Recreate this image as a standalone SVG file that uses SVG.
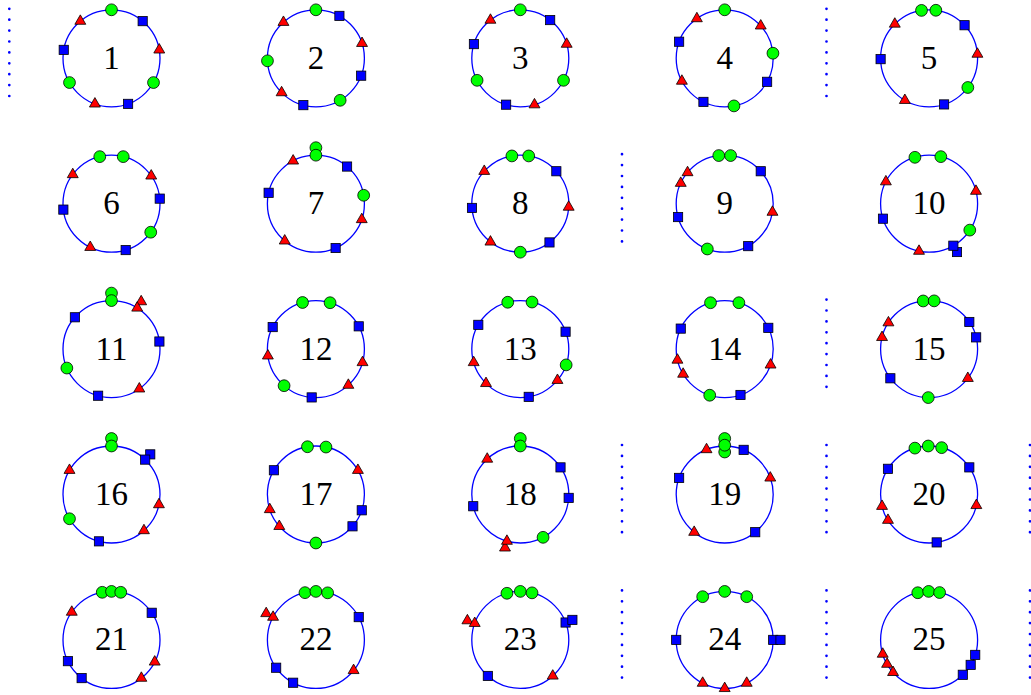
<svg xmlns="http://www.w3.org/2000/svg" xmlns:xlink="http://www.w3.org/1999/xlink" width="1031" height="695" viewBox="0 0 1031 695">
<style>
.ring{fill:none;stroke:#0000ff;stroke-width:1.3}
.lbl{font-family:"Liberation Serif","DejaVu Serif",serif;font-size:33px;text-anchor:middle;fill:#000}
.gc{fill:#00ff00;stroke:#000;stroke-width:0.8}
.sq{fill:#0000ff;stroke:#000;stroke-width:0.8}
.tr{fill:#ff0000;stroke:#000;stroke-width:0.8;stroke-linejoin:miter}
.dots{stroke:#0000ff;stroke-width:2.7;stroke-linecap:round;stroke-dasharray:0 10.9;fill:none}
</style>
<defs>
<circle id="g" r="5.9" class="gc"/>
<rect id="s" x="-4.6" y="-4.6" width="9.2" height="9.2" class="sq"/>
<polygon id="t" points="0,-6.3 5.46,3.15 -5.46,3.15" class="tr"/>
</defs>
<rect width="1031" height="695" fill="#ffffff"/>
<g id="connectors">
<line class="dots" x1="9.3" y1="8.8" x2="9.3" y2="96.5"/>
<line class="dots" x1="826.5" y1="8.8" x2="826.5" y2="96.5"/>
<line class="dots" x1="622" y1="154.2" x2="622" y2="242"/>
<line class="dots" x1="826.5" y1="299.6" x2="826.5" y2="387.4"/>
<line class="dots" x1="622" y1="445" x2="622" y2="532.8"/>
<line class="dots" x1="826.5" y1="445" x2="826.5" y2="532.8"/>
<line class="dots" x1="1030" y1="445" x2="1030" y2="532.8"/>
<line class="dots" x1="622" y1="590.4" x2="622" y2="678.2"/>
<line class="dots" x1="826.5" y1="590.4" x2="826.5" y2="678.2"/>
<line class="dots" x1="1030" y1="590.4" x2="1030" y2="678.2"/>
</g>

<g id="n1" transform="translate(111.5,58.3)">
<circle class="ring" r="48.5"/><text class="lbl" y="10.5">1</text>
<use href="#g" transform="rotate(0) translate(0,-48.5) rotate(0)"/>
<use href="#s" transform="rotate(40) translate(0,-48.5) rotate(-40)"/>
<use href="#t" transform="rotate(80) translate(0,-48.5) rotate(-80)"/>
<use href="#g" transform="rotate(120) translate(0,-48.5) rotate(-120)"/>
<use href="#s" transform="rotate(160) translate(0,-48.5) rotate(-160)"/>
<use href="#t" transform="rotate(200) translate(0,-48.5) rotate(-200)"/>
<use href="#g" transform="rotate(240) translate(0,-48.5) rotate(-240)"/>
<use href="#s" transform="rotate(280) translate(0,-48.5) rotate(-280)"/>
<use href="#t" transform="rotate(320) translate(0,-48.5) rotate(-320)"/>
</g>

<g id="n2" transform="translate(315.9,58.3)">
<circle class="ring" r="48.5"/><text class="lbl" y="10.5">2</text>
<use href="#g" transform="rotate(0) translate(0,-48.5) rotate(0)"/>
<use href="#s" transform="rotate(29) translate(0,-48.5) rotate(-29)"/>
<use href="#t" transform="rotate(72) translate(0,-48.5) rotate(-72)"/>
<use href="#s" transform="rotate(111) translate(0,-48.5) rotate(-111)"/>
<use href="#g" transform="rotate(150) translate(0,-48.5) rotate(-150)"/>
<use href="#s" transform="rotate(195) translate(0,-48.5) rotate(-195)"/>
<use href="#t" transform="rotate(225) translate(0,-48.5) rotate(-225)"/>
<use href="#g" transform="rotate(267) translate(0,-48.5) rotate(-267)"/>
<use href="#t" transform="rotate(318) translate(0,-48.5) rotate(-318)"/>
</g>

<g id="n3" transform="translate(520.3,58.3)">
<circle class="ring" r="48.5"/><text class="lbl" y="10.5">3</text>
<use href="#g" transform="rotate(0) translate(0,-48.5) rotate(0)"/>
<use href="#s" transform="rotate(38) translate(0,-48.5) rotate(-38)"/>
<use href="#t" transform="rotate(73) translate(0,-48.5) rotate(-73)"/>
<use href="#g" transform="rotate(117) translate(0,-48.5) rotate(-117)"/>
<use href="#t" transform="rotate(163) translate(0,-48.5) rotate(-163)"/>
<use href="#s" transform="rotate(197) translate(0,-48.5) rotate(-197)"/>
<use href="#g" transform="rotate(243) translate(0,-48.5) rotate(-243)"/>
<use href="#s" transform="rotate(287) translate(0,-48.5) rotate(-287)"/>
<use href="#t" transform="rotate(322) translate(0,-48.5) rotate(-322)"/>
</g>

<g id="n4" transform="translate(724.7,58.3)">
<circle class="ring" r="48.5"/><text class="lbl" y="10.5">4</text>
<use href="#g" transform="rotate(0) translate(0,-48.5) rotate(0)"/>
<use href="#t" transform="rotate(48) translate(0,-48.5) rotate(-48)"/>
<use href="#g" transform="rotate(84) translate(0,-48.5) rotate(-84)"/>
<use href="#s" transform="rotate(119) translate(0,-48.5) rotate(-119)"/>
<use href="#g" transform="rotate(169) translate(0,-48.5) rotate(-169)"/>
<use href="#s" transform="rotate(206) translate(0,-48.5) rotate(-206)"/>
<use href="#t" transform="rotate(242) translate(0,-48.5) rotate(-242)"/>
<use href="#s" transform="rotate(290) translate(0,-48.5) rotate(-290)"/>
<use href="#t" transform="rotate(325) translate(0,-48.5) rotate(-325)"/>
</g>

<g id="n5" transform="translate(929.1,58.3)">
<circle class="ring" r="48.5"/><text class="lbl" y="10.5">5</text>
<use href="#g" transform="rotate(351) translate(0,-48.5) rotate(-351)"/>
<use href="#g" transform="rotate(8) translate(0,-48.5) rotate(-8)"/>
<use href="#s" transform="rotate(47) translate(0,-48.5) rotate(-47)"/>
<use href="#t" transform="rotate(85) translate(0,-48.5) rotate(-85)"/>
<use href="#g" transform="rotate(127) translate(0,-48.5) rotate(-127)"/>
<use href="#s" transform="rotate(162) translate(0,-48.5) rotate(-162)"/>
<use href="#t" transform="rotate(210) translate(0,-48.5) rotate(-210)"/>
<use href="#s" transform="rotate(269) translate(0,-48.5) rotate(-269)"/>
<use href="#t" transform="rotate(315) translate(0,-48.5) rotate(-315)"/>
</g>

<g id="n6" transform="translate(111.5,203.7)">
<circle class="ring" r="48.5"/><text class="lbl" y="10.5">6</text>
<use href="#g" transform="rotate(346) translate(0,-48.5) rotate(-346)"/>
<use href="#g" transform="rotate(14) translate(0,-48.5) rotate(-14)"/>
<use href="#t" transform="rotate(55) translate(0,-48.5) rotate(-55)"/>
<use href="#s" transform="rotate(84) translate(0,-48.5) rotate(-84)"/>
<use href="#g" transform="rotate(126) translate(0,-48.5) rotate(-126)"/>
<use href="#s" transform="rotate(163) translate(0,-48.5) rotate(-163)"/>
<use href="#t" transform="rotate(206) translate(0,-48.5) rotate(-206)"/>
<use href="#s" transform="rotate(263) translate(0,-48.5) rotate(-263)"/>
<use href="#t" transform="rotate(307) translate(0,-48.5) rotate(-307)"/>
</g>

<g id="n7" transform="translate(315.9,203.7)">
<circle class="ring" r="48.5"/><text class="lbl" y="10.5">7</text>
<use href="#g" transform="rotate(0) translate(0,-56) rotate(0)"/>
<use href="#g" transform="rotate(0) translate(0,-48.5) rotate(0)"/>
<use href="#s" transform="rotate(40) translate(0,-48.5) rotate(-40)"/>
<use href="#g" transform="rotate(80) translate(0,-48.5) rotate(-80)"/>
<use href="#t" transform="rotate(109) translate(0,-48.5) rotate(-109)"/>
<use href="#s" transform="rotate(156) translate(0,-48.5) rotate(-156)"/>
<use href="#t" transform="rotate(220) translate(0,-48.5) rotate(-220)"/>
<use href="#s" transform="rotate(283) translate(0,-48.5) rotate(-283)"/>
<use href="#t" transform="rotate(332) translate(0,-48.5) rotate(-332)"/>
</g>

<g id="n8" transform="translate(520.3,203.7)">
<circle class="ring" r="48.5"/><text class="lbl" y="10.5">8</text>
<use href="#g" transform="rotate(350) translate(0,-48.5) rotate(-350)"/>
<use href="#g" transform="rotate(10) translate(0,-48.5) rotate(-10)"/>
<use href="#s" transform="rotate(48) translate(0,-48.5) rotate(-48)"/>
<use href="#t" transform="rotate(94) translate(0,-48.5) rotate(-94)"/>
<use href="#s" transform="rotate(143) translate(0,-48.5) rotate(-143)"/>
<use href="#g" transform="rotate(180) translate(0,-48.5) rotate(-180)"/>
<use href="#t" transform="rotate(218) translate(0,-48.5) rotate(-218)"/>
<use href="#s" transform="rotate(265) translate(0,-48.5) rotate(-265)"/>
<use href="#t" transform="rotate(312) translate(0,-48.5) rotate(-312)"/>
</g>

<g id="n9" transform="translate(724.7,203.7)">
<circle class="ring" r="48.5"/><text class="lbl" y="10.5">9</text>
<use href="#g" transform="rotate(353) translate(0,-48.5) rotate(-353)"/>
<use href="#g" transform="rotate(7) translate(0,-48.5) rotate(-7)"/>
<use href="#s" transform="rotate(48) translate(0,-48.5) rotate(-48)"/>
<use href="#t" transform="rotate(100) translate(0,-48.5) rotate(-100)"/>
<use href="#s" transform="rotate(151) translate(0,-48.5) rotate(-151)"/>
<use href="#g" transform="rotate(201) translate(0,-48.5) rotate(-201)"/>
<use href="#s" transform="rotate(254) translate(0,-48.5) rotate(-254)"/>
<use href="#t" transform="rotate(295) translate(0,-48.5) rotate(-295)"/>
<use href="#t" transform="rotate(310) translate(0,-48.5) rotate(-310)"/>
</g>

<g id="n10" transform="translate(929.1,203.7)">
<circle class="ring" r="48.5"/><text class="lbl" y="10.5">10</text>
<use href="#g" transform="rotate(343) translate(0,-48.5) rotate(-343)"/>
<use href="#g" transform="rotate(14) translate(0,-48.5) rotate(-14)"/>
<use href="#t" transform="rotate(75) translate(0,-48.5) rotate(-75)"/>
<use href="#g" transform="rotate(123) translate(0,-48.5) rotate(-123)"/>
<use href="#s" transform="rotate(150) translate(0,-55.8) rotate(-150)"/>
<use href="#s" transform="rotate(150) translate(0,-48.5) rotate(-150)"/>
<use href="#t" transform="rotate(192) translate(0,-48.5) rotate(-192)"/>
<use href="#s" transform="rotate(252) translate(0,-48.5) rotate(-252)"/>
<use href="#t" transform="rotate(297) translate(0,-48.5) rotate(-297)"/>
</g>

<g id="n11" transform="translate(111.5,349.1)">
<circle class="ring" r="48.5"/><text class="lbl" y="10.5">11</text>
<use href="#g" transform="rotate(0) translate(0,-56) rotate(0)"/>
<use href="#g" transform="rotate(0) translate(0,-48.5) rotate(0)"/>
<use href="#t" transform="rotate(32) translate(0,-56) rotate(-32)"/>
<use href="#t" transform="rotate(32) translate(0,-48.5) rotate(-32)"/>
<use href="#s" transform="rotate(81) translate(0,-48.5) rotate(-81)"/>
<use href="#t" transform="rotate(145) translate(0,-48.5) rotate(-145)"/>
<use href="#s" transform="rotate(196) translate(0,-48.5) rotate(-196)"/>
<use href="#g" transform="rotate(247) translate(0,-48.5) rotate(-247)"/>
<use href="#s" transform="rotate(311) translate(0,-48.5) rotate(-311)"/>
</g>

<g id="n12" transform="translate(315.9,349.1)">
<circle class="ring" r="48.5"/><text class="lbl" y="10.5">12</text>
<use href="#g" transform="rotate(344) translate(0,-48.5) rotate(-344)"/>
<use href="#g" transform="rotate(17) translate(0,-48.5) rotate(-17)"/>
<use href="#s" transform="rotate(62) translate(0,-48.5) rotate(-62)"/>
<use href="#t" transform="rotate(106) translate(0,-48.5) rotate(-106)"/>
<use href="#t" transform="rotate(138) translate(0,-48.5) rotate(-138)"/>
<use href="#s" transform="rotate(185) translate(0,-48.5) rotate(-185)"/>
<use href="#g" transform="rotate(221) translate(0,-48.5) rotate(-221)"/>
<use href="#t" transform="rotate(262) translate(0,-48.5) rotate(-262)"/>
<use href="#s" transform="rotate(297) translate(0,-48.5) rotate(-297)"/>
</g>

<g id="n13" transform="translate(520.3,349.1)">
<circle class="ring" r="48.5"/><text class="lbl" y="10.5">13</text>
<use href="#g" transform="rotate(345) translate(0,-48.5) rotate(-345)"/>
<use href="#g" transform="rotate(14) translate(0,-48.5) rotate(-14)"/>
<use href="#s" transform="rotate(69) translate(0,-48.5) rotate(-69)"/>
<use href="#g" transform="rotate(109) translate(0,-48.5) rotate(-109)"/>
<use href="#t" transform="rotate(130) translate(0,-48.5) rotate(-130)"/>
<use href="#s" transform="rotate(170) translate(0,-48.5) rotate(-170)"/>
<use href="#t" transform="rotate(225) translate(0,-48.5) rotate(-225)"/>
<use href="#t" transform="rotate(254) translate(0,-48.5) rotate(-254)"/>
<use href="#s" transform="rotate(300) translate(0,-48.5) rotate(-300)"/>
</g>

<g id="n14" transform="translate(724.7,349.1)">
<circle class="ring" r="48.5"/><text class="lbl" y="10.5">14</text>
<use href="#g" transform="rotate(343) translate(0,-48.5) rotate(-343)"/>
<use href="#g" transform="rotate(17) translate(0,-48.5) rotate(-17)"/>
<use href="#s" transform="rotate(64) translate(0,-48.5) rotate(-64)"/>
<use href="#t" transform="rotate(109) translate(0,-48.5) rotate(-109)"/>
<use href="#s" transform="rotate(161) translate(0,-48.5) rotate(-161)"/>
<use href="#g" transform="rotate(198) translate(0,-48.5) rotate(-198)"/>
<use href="#t" transform="rotate(239) translate(0,-48.5) rotate(-239)"/>
<use href="#t" transform="rotate(257) translate(0,-48.5) rotate(-257)"/>
<use href="#s" transform="rotate(295) translate(0,-48.5) rotate(-295)"/>
</g>

<g id="n15" transform="translate(929.1,349.1)">
<circle class="ring" r="48.5"/><text class="lbl" y="10.5">15</text>
<use href="#g" transform="rotate(353) translate(0,-48.5) rotate(-353)"/>
<use href="#g" transform="rotate(6) translate(0,-48.5) rotate(-6)"/>
<use href="#s" transform="rotate(56) translate(0,-48.5) rotate(-56)"/>
<use href="#s" transform="rotate(76) translate(0,-48.5) rotate(-76)"/>
<use href="#t" transform="rotate(127) translate(0,-48.5) rotate(-127)"/>
<use href="#g" transform="rotate(181) translate(0,-48.5) rotate(-181)"/>
<use href="#s" transform="rotate(233) translate(0,-48.5) rotate(-233)"/>
<use href="#t" transform="rotate(284) translate(0,-48.5) rotate(-284)"/>
<use href="#t" transform="rotate(303) translate(0,-48.5) rotate(-303)"/>
</g>

<g id="n16" transform="translate(111.5,494.5)">
<circle class="ring" r="48.5"/><text class="lbl" y="10.5">16</text>
<use href="#g" transform="rotate(0) translate(0,-56) rotate(0)"/>
<use href="#g" transform="rotate(0) translate(0,-48.5) rotate(0)"/>
<use href="#s" transform="rotate(44) translate(0,-55.8) rotate(-44)"/>
<use href="#s" transform="rotate(44) translate(0,-48.5) rotate(-44)"/>
<use href="#t" transform="rotate(102) translate(0,-48.5) rotate(-102)"/>
<use href="#t" transform="rotate(138) translate(0,-48.5) rotate(-138)"/>
<use href="#s" transform="rotate(195) translate(0,-48.5) rotate(-195)"/>
<use href="#g" transform="rotate(240) translate(0,-48.5) rotate(-240)"/>
<use href="#t" transform="rotate(300) translate(0,-48.5) rotate(-300)"/>
</g>

<g id="n17" transform="translate(315.9,494.5)">
<circle class="ring" r="48.5"/><text class="lbl" y="10.5">17</text>
<use href="#g" transform="rotate(350) translate(0,-48.5) rotate(-350)"/>
<use href="#g" transform="rotate(12) translate(0,-48.5) rotate(-12)"/>
<use href="#t" transform="rotate(60) translate(0,-48.5) rotate(-60)"/>
<use href="#s" transform="rotate(109) translate(0,-48.5) rotate(-109)"/>
<use href="#s" transform="rotate(131) translate(0,-48.5) rotate(-131)"/>
<use href="#g" transform="rotate(180) translate(0,-48.5) rotate(-180)"/>
<use href="#t" transform="rotate(229) translate(0,-48.5) rotate(-229)"/>
<use href="#t" transform="rotate(252) translate(0,-48.5) rotate(-252)"/>
<use href="#s" transform="rotate(300) translate(0,-48.5) rotate(-300)"/>
</g>

<g id="n18" transform="translate(520.3,494.5)">
<circle class="ring" r="48.5"/><text class="lbl" y="10.5">18</text>
<use href="#g" transform="rotate(0) translate(0,-56) rotate(0)"/>
<use href="#g" transform="rotate(0) translate(0,-48.5) rotate(0)"/>
<use href="#s" transform="rotate(56) translate(0,-48.5) rotate(-56)"/>
<use href="#s" transform="rotate(94) translate(0,-48.5) rotate(-94)"/>
<use href="#g" transform="rotate(152) translate(0,-48.5) rotate(-152)"/>
<use href="#t" transform="rotate(196) translate(0,-55.5) rotate(-196)"/>
<use href="#t" transform="rotate(196) translate(0,-48.5) rotate(-196)"/>
<use href="#s" transform="rotate(256) translate(0,-48.5) rotate(-256)"/>
<use href="#t" transform="rotate(317) translate(0,-48.5) rotate(-317)"/>
</g>

<g id="n19" transform="translate(724.7,494.5)">
<circle class="ring" r="48.5"/><text class="lbl" y="10.5">19</text>
<use href="#g" transform="rotate(0) translate(0,-56) rotate(0)"/>
<use href="#g" transform="rotate(0) translate(0,-42.5) rotate(0)"/>
<use href="#g" transform="rotate(0) translate(0,-49.3) rotate(0)"/>
<use href="#s" transform="rotate(23) translate(0,-48.5) rotate(-23)"/>
<use href="#t" transform="rotate(70) translate(0,-48.5) rotate(-70)"/>
<use href="#s" transform="rotate(141) translate(0,-48.5) rotate(-141)"/>
<use href="#t" transform="rotate(219) translate(0,-48.5) rotate(-219)"/>
<use href="#s" transform="rotate(290) translate(0,-48.5) rotate(-290)"/>
<use href="#t" transform="rotate(338) translate(0,-48.5) rotate(-338)"/>
</g>

<g id="n20" transform="translate(929.1,494.5)">
<circle class="ring" r="48.5"/><text class="lbl" y="10.5">20</text>
<use href="#g" transform="rotate(343) translate(0,-48.5) rotate(-343)"/>
<use href="#g" transform="rotate(15) translate(0,-48.5) rotate(-15)"/>
<use href="#g" transform="rotate(359) translate(0,-48.5) rotate(-359)"/>
<use href="#s" transform="rotate(56) translate(0,-48.5) rotate(-56)"/>
<use href="#t" transform="rotate(103) translate(0,-48.5) rotate(-103)"/>
<use href="#s" transform="rotate(171) translate(0,-48.5) rotate(-171)"/>
<use href="#t" transform="rotate(238) translate(0,-48.5) rotate(-238)"/>
<use href="#t" transform="rotate(256) translate(0,-48.5) rotate(-256)"/>
<use href="#s" transform="rotate(302) translate(0,-48.5) rotate(-302)"/>
</g>

<g id="n21" transform="translate(111.5,639.9)">
<circle class="ring" r="48.5"/><text class="lbl" y="10.5">21</text>
<use href="#g" transform="rotate(349) translate(0,-48.5) rotate(-349)"/>
<use href="#g" transform="rotate(0) translate(0,-48.5) rotate(0)"/>
<use href="#g" transform="rotate(11) translate(0,-48.5) rotate(-11)"/>
<use href="#s" transform="rotate(56) translate(0,-48.5) rotate(-56)"/>
<use href="#t" transform="rotate(117) translate(0,-48.5) rotate(-117)"/>
<use href="#t" transform="rotate(142) translate(0,-48.5) rotate(-142)"/>
<use href="#s" transform="rotate(218) translate(0,-48.5) rotate(-218)"/>
<use href="#s" transform="rotate(244) translate(0,-48.5) rotate(-244)"/>
<use href="#t" transform="rotate(305) translate(0,-48.5) rotate(-305)"/>
</g>

<g id="n22" transform="translate(315.9,639.9)">
<circle class="ring" r="48.5"/><text class="lbl" y="10.5">22</text>
<use href="#g" transform="rotate(347) translate(0,-48.5) rotate(-347)"/>
<use href="#g" transform="rotate(0) translate(0,-48.5) rotate(0)"/>
<use href="#g" transform="rotate(14) translate(0,-48.5) rotate(-14)"/>
<use href="#s" transform="rotate(62) translate(0,-48.5) rotate(-62)"/>
<use href="#t" transform="rotate(129) translate(0,-48.5) rotate(-129)"/>
<use href="#s" transform="rotate(208) translate(0,-48.5) rotate(-208)"/>
<use href="#s" transform="rotate(235) translate(0,-48.5) rotate(-235)"/>
<use href="#t" transform="rotate(298) translate(0,-56.3) rotate(-298)"/>
<use href="#t" transform="rotate(298) translate(0,-48.5) rotate(-298)"/>
</g>

<g id="n23" transform="translate(520.3,639.9)">
<circle class="ring" r="48.5"/><text class="lbl" y="10.5">23</text>
<use href="#g" transform="rotate(344) translate(0,-48.5) rotate(-344)"/>
<use href="#g" transform="rotate(0) translate(0,-48.5) rotate(0)"/>
<use href="#g" transform="rotate(14) translate(0,-48.5) rotate(-14)"/>
<use href="#s" transform="rotate(69) translate(0,-48.5) rotate(-69)"/>
<use href="#s" transform="rotate(69) translate(0,-55.8) rotate(-69)"/>
<use href="#t" transform="rotate(138) translate(0,-48.5) rotate(-138)"/>
<use href="#s" transform="rotate(222) translate(0,-48.5) rotate(-222)"/>
<use href="#t" transform="rotate(290) translate(0,-56.3) rotate(-290)"/>
<use href="#t" transform="rotate(290) translate(0,-48.5) rotate(-290)"/>
</g>

<g id="n24" transform="translate(724.7,639.9)">
<circle class="ring" r="48.5"/><text class="lbl" y="10.5">24</text>
<use href="#g" transform="rotate(333) translate(0,-48.5) rotate(-333)"/>
<use href="#g" transform="rotate(0) translate(0,-48.5) rotate(0)"/>
<use href="#g" transform="rotate(27) translate(0,-48.5) rotate(-27)"/>
<use href="#s" transform="rotate(90) translate(0,-48.5) rotate(-90)"/>
<use href="#s" transform="rotate(90) translate(0,-55.8) rotate(-90)"/>
<use href="#t" transform="rotate(153) translate(0,-48.5) rotate(-153)"/>
<use href="#t" transform="rotate(180) translate(0,-48.5) rotate(-180)"/>
<use href="#t" transform="rotate(207) translate(0,-48.5) rotate(-207)"/>
<use href="#s" transform="rotate(270) translate(0,-48.5) rotate(-270)"/>
</g>

<g id="n25" transform="translate(929.1,639.9)">
<circle class="ring" r="48.5"/><text class="lbl" y="10.5">25</text>
<use href="#g" transform="rotate(346.5) translate(0,-48.5) rotate(-346.5)"/>
<use href="#g" transform="rotate(359.5) translate(0,-48.5) rotate(-359.5)"/>
<use href="#g" transform="rotate(12.5) translate(0,-48.5) rotate(-12.5)"/>
<use href="#s" transform="rotate(108) translate(0,-48.5) rotate(-108)"/>
<use href="#s" transform="rotate(121) translate(0,-48.5) rotate(-121)"/>
<use href="#s" transform="rotate(136) translate(0,-48.5) rotate(-136)"/>
<use href="#t" transform="rotate(228) translate(0,-48.5) rotate(-228)"/>
<use href="#t" transform="rotate(240) translate(0,-48.5) rotate(-240)"/>
<use href="#t" transform="rotate(253) translate(0,-48.5) rotate(-253)"/>
</g>
</svg>
